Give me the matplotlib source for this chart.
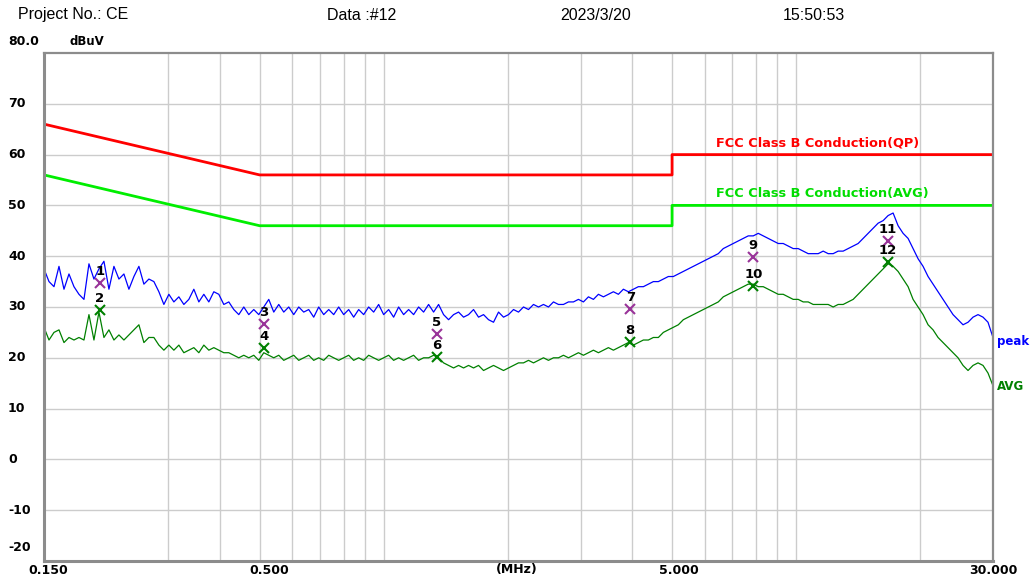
import numpy as np
import matplotlib
matplotlib.use('Agg')
import matplotlib.pyplot as plt
import matplotlib.transforms as mtransforms

# header info
project = 'Project No.: CE'
data_no = 'Data :#12'
date = '2023/3/20'
clock = '15:50:53'

# limit lines (MHz, dBuV)
qp_freq = [0.15, 0.5, 5.0, 5.0, 30.0]
qp_limit = [66, 56, 56, 60, 60]
avg_freq = [0.15, 0.5, 5.0, 5.0, 30.0]
avg_limit = [56, 46, 46, 50, 50]

peak = [37.5, 35, 34, 38, 33.5, 36.5, 34, 32.5, 31.5, 38.5,
        35.5, 37.5, 39, 33.5, 38, 35.5, 36.5, 33.5, 36, 38,
        34.5, 35.5, 35, 33, 30.5, 32.5, 31, 32, 30.5, 31.5,
        33.5, 31, 32.5, 31, 33, 32.5, 30.5, 31, 29.5, 28.5,
        30, 28.5, 29.5, 28.5, 30, 31.5, 29, 30.5, 29, 30,
        28.5, 30, 29, 29.5, 28, 30, 28.5, 29.5, 28.5, 30,
        28.5, 29.5, 28, 29.5, 28.5, 30, 29, 30.5, 28.5, 29.5,
        28, 30, 28.5, 29.5, 28.5, 30, 29, 30.5, 29, 30.5,
        28.5, 27.5, 28.5, 29, 28, 28.5, 29.5, 28, 28.5, 27.5,
        27, 29, 28, 28.5, 29.5, 29, 30, 29.5, 30.5, 30,
        30.5, 30, 31, 30.5, 30.5, 31, 31, 31.5, 31, 32,
        31.5, 32.5, 32, 32.5, 33, 32.5, 33.5, 33, 33.5, 34,
        34, 34.5, 35, 35, 35.5, 36, 36, 36.5, 37, 37.5,
        38, 38.5, 39, 39.5, 40, 40.5, 41.5, 42, 42.5, 43,
        43.5, 44, 44, 44.5, 44, 43.5, 43, 42.5, 42.5, 42,
        41.5, 41.5, 41, 40.5, 40.5, 40.5, 41, 40.5, 40.5, 41,
        41, 41.5, 42, 42.5, 43.5, 44.5, 45.5, 46.5, 47, 48,
        48.5, 46, 44.5, 43.5, 41.5, 39.5, 38, 36, 34.5, 33,
        31.5, 30, 28.5, 27.5, 26.5, 27, 28, 28.5, 28, 27,
        24]
avg = [26, 23.5, 25, 25.5, 23, 24, 23.5, 24, 23.5, 28.5,
       23.5, 29, 24, 25.5, 23.5, 24.5, 23.5, 24.5, 25.5, 26.5,
       23, 24, 24, 22.5, 21.5, 22.5, 21.5, 22.5, 21, 21.5,
       22, 21, 22.5, 21.5, 22, 21.5, 21, 21, 20.5, 20,
       20.5, 20, 20.5, 19.5, 21, 20.5, 20, 20.5, 19.5, 20,
       20.5, 19.5, 20, 20.5, 19.5, 20, 19.5, 20.5, 20, 19.5,
       20, 20.5, 19.5, 20, 19.5, 20.5, 20, 19.5, 20, 20.5,
       19.5, 20, 19.5, 20, 20.5, 19.5, 20, 20, 20.5, 20,
       19, 18.5, 18, 18.5, 18, 18.5, 18, 18.5, 17.5, 18,
       18.5, 18, 17.5, 18, 18.5, 19, 19, 19.5, 19, 19.5,
       20, 19.5, 20, 20, 20.5, 20, 20.5, 21, 20.5, 21,
       21.5, 21, 21.5, 22, 21.5, 22, 22.5, 23, 22.5, 23,
       23.5, 23.5, 24, 24, 25, 25.5, 26, 26.5, 27.5, 28,
       28.5, 29, 29.5, 30, 30.5, 31, 32, 32.5, 33, 33.5,
       34, 34.5, 34.5, 34, 34, 33.5, 33, 32.5, 32.5, 32,
       31.5, 31.5, 31, 31, 30.5, 30.5, 30.5, 30.5, 30, 30.5,
       30.5, 31, 31.5, 32.5, 33.5, 34.5, 35.5, 36.5, 37.5, 38.5,
       38, 37, 35.5, 34, 31.5, 30, 28.5, 26.5, 25.5, 24,
       23, 22, 21, 20, 18.5, 17.5, 18.5, 19, 18.5, 17,
       14.5]
freq = np.geomspace(0.15, 30, len(peak))

# marker table
mk_freq = [0.205, 0.205, 0.512, 0.512, 1.346, 1.346, 3.96, 3.96, 7.87, 7.87, 16.7, 16.7]
mk_level = [34.7, 29.4, 26.7, 21.9, 24.7, 20.2, 29.6, 23.1, 39.8, 34.1, 43.0, 38.9]
mk_num = ['1', '2', '3', '4', '5', '6', '7', '8', '9', '10', '11', '12']

W, H = 1033, 581
fig = plt.figure(figsize=(W / 100, H / 100), dpi=100)
ax = fig.add_axes([44 / W, (H - 561) / H, (993 - 44) / W, (561 - 53) / H])

ax.set_xscale('log')
ax.set_xlim(0.15, 30)
ax.set_ylim(-20, 80)

# grid
for f in [0.3, 0.4, 0.5, 0.6, 0.7, 0.8, 0.9, 1, 2, 3, 4, 5, 6, 7, 8, 9, 10, 20]:
    ax.axvline(f, color='#cccccc', lw=1, zorder=0)
for y in range(-10, 80, 10):
    ax.axhline(y, color='#cccccc', lw=1, zorder=0)

for s in ax.spines.values():
    s.set_color('#8c8c8c')
    s.set_linewidth(1.6)
ax.spines['left'].set_linewidth(2.2)
ax.spines['bottom'].set_linewidth(2.2)

ax.set_xticks([])
ax.set_yticks([])
ax.minorticks_off()

# limits
ax.plot(qp_freq, qp_limit, color='#ff0000', lw=2)
ax.plot(avg_freq, avg_limit, color='#00ee00', lw=2)
ax.text(6.4, 61.0, 'FCC Class B Conduction(QP)', color='#ff0000', fontsize=9.3,
        fontweight='bold', va='bottom')
ax.text(6.4, 51.0, 'FCC Class B Conduction(AVG)', color='#00dd00', fontsize=9.3,
        fontweight='bold', va='bottom')

# traces
ax.plot(freq, peak, color='#0000ff', lw=0.9)
ax.plot(freq, avg, color='#008000', lw=0.9)

# markers
for i in range(len(mk_freq)):
    c = '#993399' if i % 2 == 0 else '#008000'
    ax.plot(mk_freq[i], mk_level[i], marker='x', ms=7, mew=1.5, color=c, zorder=5)
    ax.annotate(mk_num[i], (mk_freq[i], mk_level[i]), xytext=(0, 5),
                textcoords='offset pixels', ha='center', va='bottom',
                fontsize=9.5, fontweight='bold', color='black', zorder=6)

ax.text(1.004, peak[-1] - 0.7, 'peak', transform=mtransforms.blended_transform_factory(ax.transAxes, ax.transData),
        color='#0000ff', fontsize=8.5, fontweight='bold', va='center', clip_on=False)
ax.text(1.004, avg[-1] - 0.2, 'AVG', transform=mtransforms.blended_transform_factory(ax.transAxes, ax.transData),
        color='#008000', fontsize=8.5, fontweight='bold', va='center', clip_on=False)

# y labels
tr = mtransforms.blended_transform_factory(fig.transFigure, ax.transData)
for y in range(-10, 80, 10):
    fig.text(8 / W, y, str(y), transform=tr, fontsize=9, fontweight='bold', va='center')
fig.text(8 / W, 82.2, '80.0', transform=tr, fontsize=9, fontweight='bold', va='center')
fig.text(8 / W, -17.3, '-20', transform=tr, fontsize=9, fontweight='bold', va='center')
fig.text(70 / W, 82.2, 'dBuV', transform=tr, fontsize=8.5, fontweight='bold', va='center')

# x labels
ylab = 1 - 570 / H
fig.text(48 / W, ylab, '0.150', fontsize=9, fontweight='bold', ha='center', va='center')
fig.text(269 / W, ylab, '0.500', fontsize=9, fontweight='bold', ha='center', va='center')
fig.text(517 / W, ylab, '(MHz)', fontsize=9, fontweight='bold', ha='center', va='center')
fig.text(679 / W, ylab, '5.000', fontsize=9, fontweight='bold', ha='center', va='center')
fig.text(993 / W, ylab, '30.000', fontsize=9, fontweight='bold', ha='center', va='center')

# header
hy = 1 - 15 / H
fig.text(18 / W, hy, project, fontsize=11.5, family='Liberation Sans', va='center')
fig.text(327 / W, hy, data_no, fontsize=11.5, family='Liberation Sans', va='center')
fig.text(560 / W, hy, date, fontsize=11.5, family='Liberation Sans', va='center')
fig.text(783 / W, hy, clock, fontsize=11.5, family='Liberation Sans', va='center')

fig.savefig('out.png', dpi=100)
